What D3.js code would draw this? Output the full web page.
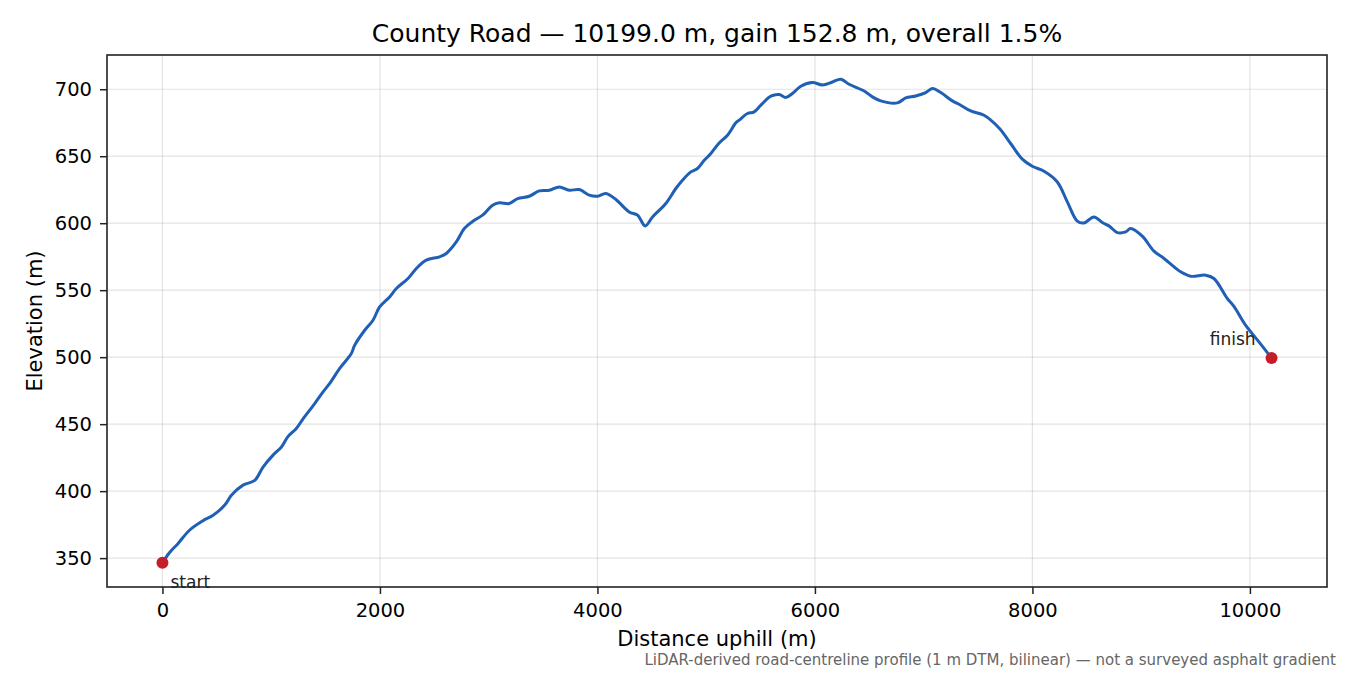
<!DOCTYPE html>
<html>
<head>
<meta charset="utf-8">
<script src="https://cdn.jsdelivr.net/npm/d3@7"></script>
<style>
  body { margin: 0; background: #fff; }
  text { font-family: "DejaVu Sans", sans-serif; }
</style>
</head>
<body>
<div id="chart"></div>
<script>
// profile, metres
const distance = [0, 64, 144, 251, 374, 466, 573, 634, 741, 848, 925, 1017, 1094, 1152, 1231, 1293,
  1400, 1477, 1538, 1630, 1737, 1768, 1860, 1936, 1997, 2089, 2151, 2258, 2335, 2426, 2549, 2610,
  2702, 2776, 2868, 2944, 3036, 3097, 3189, 3266, 3373, 3465, 3557, 3649, 3741, 3833, 3925, 4001,
  4078, 4170, 4292, 4369, 4439, 4507, 4629, 4721, 4782, 4859, 4920, 4982, 5043, 5119, 5196, 5273,
  5303, 5380, 5441, 5503, 5595, 5671, 5732, 5793, 5870, 5977, 6069, 6161, 6238, 6314, 6452, 6529,
  6605, 6758, 6835, 6927, 7019, 7080, 7157, 7264, 7325, 7433, 7555, 7693, 7800, 7907, 7999, 8107,
  8229, 8321, 8413, 8474, 8566, 8643, 8704, 8781, 8857, 8903, 9010, 9118, 9210, 9363, 9455, 9593,
  9669, 9792, 9853, 9960, 10083, 10199];
const elevation = [346.5, 354, 361, 371, 378, 382, 389.6, 397, 404.5, 408, 418, 426.9, 433, 440.5, 446.8, 454,
  465.4, 474.1, 480.4, 491.6, 502.8, 509, 520.1, 527.6, 537.5, 545, 551.3, 558.7, 566.2, 572.4, 574.9, 577.4,
  586, 596, 602.2, 606, 613.4, 615.2, 614.7, 618.4, 620.1, 624.1, 624.6, 627.1, 624.6, 625.1, 620.9, 620.1,
  622.2, 617.7, 608.4, 606, 598, 604.7, 614.7, 625.9, 632.1, 638.3, 640.8, 646.9, 652, 659.9, 665.7, 674.9,
  676.9, 681.9, 683.1, 688.1, 694.8, 696, 693.8, 696.8, 702.2, 705, 703.2, 705.4, 707.5, 703.7, 698.7, 694.3,
  691.3, 689.8, 693.5, 695, 697.5, 700.5, 697.5, 691.3, 688.8, 683.8, 680.6, 671.1, 659.5, 647.8, 642.5, 638.8,
  630.8, 615.9, 601.5, 600.2, 604.7, 600.5, 598, 593, 593.5, 596, 590.3, 579.1, 573.7, 563.7, 560.4, 561.2,
  558.7, 543.8, 538, 523.9, 511.4, 499.3];
const xTicks = [0, 2000, 4000, 6000, 8000, 10000];
const yTicks = [350, 400, 450, 500, 550, 600, 650, 700];
const endLabels = ["start", "finish"];

const W = 1350, H = 675;
const margin = {top: 55, right: 23, bottom: 88, left: 107};
const width = W - margin.left - margin.right;
const height = H - margin.top - margin.bottom;

const data = distance.map((d, i) => ({d: d, e: elevation[i]}));

const svg = d3.select("#chart").append("svg")
    .attr("width", W)
    .attr("height", H);

const g = svg.append("g")
    .attr("transform", `translate(${margin.left},${margin.top})`);

// matplotlib-like 5% padding
const xExt = d3.extent(distance), yExt = d3.extent(elevation);
const xPad = (xExt[1] - xExt[0]) * 0.05, yPad = (yExt[1] - yExt[0]) * 0.05;

const x = d3.scaleLinear()
    .domain([xExt[0] - xPad, xExt[1] + xPad])
    .range([0, width]);

const y = d3.scaleLinear()
    .domain([yExt[0] - yPad, yExt[1] + yPad])
    .range([height, 0]);

// grid
g.append("g").selectAll("line")
    .data(xTicks)
    .join("line")
    .attr("x1", d => x(d)).attr("x2", d => x(d))
    .attr("y1", 0).attr("y2", height)
    .attr("stroke", "#b0b0b0").attr("stroke-opacity", 0.35).attr("stroke-width", 1.2);

g.append("g").selectAll("line")
    .data(yTicks)
    .join("line")
    .attr("x1", 0).attr("x2", width)
    .attr("y1", d => y(d)).attr("y2", d => y(d))
    .attr("stroke", "#b0b0b0").attr("stroke-opacity", 0.35).attr("stroke-width", 1.2);

const xAxis = d3.axisBottom(x).tickValues(xTicks).tickFormat(d3.format("d")).tickSize(7).tickPadding(9);
const yAxis = d3.axisLeft(y).tickValues(yTicks).tickFormat(d3.format("d")).tickSize(7).tickPadding(8);

g.append("g")
    .attr("transform", `translate(0,${height})`)
    .call(xAxis)
    .call(a => a.select(".domain").remove())
    .selectAll("text").attr("font-size", 19.5).attr("fill", "#000");

g.append("g")
    .call(yAxis)
    .call(a => a.select(".domain").remove())
    .selectAll("text").attr("font-size", 19.5).attr("fill", "#000");

g.selectAll(".tick line").attr("stroke", "#222").attr("stroke-width", 1.5);

// frame
g.append("rect")
    .attr("width", width).attr("height", height)
    .attr("fill", "none").attr("stroke", "#222").attr("stroke-width", 1.6);

const line = d3.line()
    .x(d => x(d.d))
    .y(d => y(d.e))
    .curve(d3.curveCatmullRom);

g.append("path")
    .datum(data)
    .attr("fill", "none")
    .attr("stroke", "#1f5fb4")
    .attr("stroke-width", 3)
    .attr("stroke-linejoin", "round")
    .attr("d", line);

const ends = [data[0], data[data.length - 1]];

g.selectAll(".end")
    .data(ends)
    .join("circle")
    .attr("class", "end")
    .attr("cx", d => x(d.d))
    .attr("cy", d => y(d.e))
    .attr("r", 6)
    .attr("fill", "#c41e2a");

g.append("text")
    .attr("x", x(ends[0].d) + 8)
    .attr("y", y(ends[0].e) + 25)
    .attr("font-size", 17)
    .attr("fill", "#222")
    .text(endLabels[0]);

g.append("text")
    .attr("x", x(ends[1].d) - 16)
    .attr("y", y(ends[1].e) - 13)
    .attr("text-anchor", "end")
    .attr("font-size", 17)
    .attr("fill", "#222")
    .text(endLabels[1]);

const gain = elevation[elevation.length - 1] - elevation[0];
const total = distance[distance.length - 1];

svg.append("text")
    .attr("x", margin.left + width / 2)
    .attr("y", 42)
    .attr("text-anchor", "middle")
    .attr("font-size", 25)
    .text(`County Road — ${total.toFixed(1)} m, gain ${gain.toFixed(1)} m, overall ${(gain / total * 100).toFixed(1)}%`);

svg.append("text")
    .attr("x", margin.left + width / 2)
    .attr("y", 646)
    .attr("text-anchor", "middle")
    .attr("font-size", 21)
    .text("Distance uphill (m)");

svg.append("text")
    .attr("transform", `translate(42,${margin.top + height / 2}) rotate(-90)`)
    .attr("text-anchor", "middle")
    .attr("font-size", 21)
    .text("Elevation (m)");

svg.append("text")
    .attr("x", 1336)
    .attr("y", 665)
    .attr("text-anchor", "end")
    .attr("font-size", 15)
    .attr("fill", "#666")
    .text("LiDAR-derived road-centreline profile (1 m DTM, bilinear) — not a surveyed asphalt gradient");
</script>
</body>
</html>
